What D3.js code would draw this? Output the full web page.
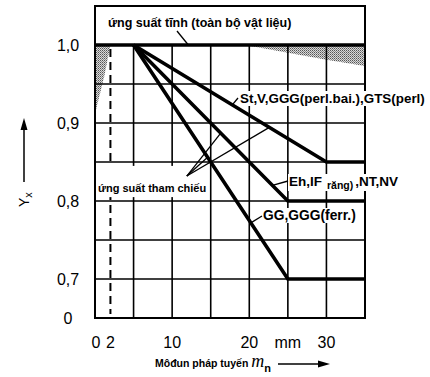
<!DOCTYPE html>
<html>
<head>
<meta charset="utf-8">
<title>Yx - modun</title>
<script src="https://d3js.org/d3.v7.min.js"></script>
<style>
  body { margin: 0; background: #fff; }
  text { font-family: "Liberation Sans", Arial, sans-serif; fill: #000; }
</style>
</head>
<body>
<div id="output"></div>
<script>

  // data
  var xGrid = [5, 10, 15, 20, 25, 30];
  var yGrid = [0.95, 0.9, 0.85, 0.8, 0.75, 0.7];
  var xTickValues = [0, 2, 10, 20, 25, 30];
  var xTickLabels = ["0", "2", "10", "20", "mm", "30"];
  var yTickValues = [1.0, 0.9, 0.8, 0.7, 0.65];
  var yTickLabels = ["1,0", "0,9", "0,8", "0,7", "0"];

  var lineStatic = [[0, 1.0], [35, 1.0]];
  var lineSt = [[5, 1.0], [30, 0.85], [35, 0.85]];
  var lineEh = [[5, 1.0], [25, 0.8], [35, 0.8]];
  var lineGG = [[5, 1.0], [25, 0.7], [35, 0.7]];
  var dashedAt = 2;

  var shadeLeft = [[0, 1.0], [2, 1.0], [1.2, 0.96], [0, 0.912]];
  var shadeRight = [[20, 1.0], [35, 1.0], [35, 0.973], [30, 0.981], [25, 0.99], [20, 0.999]];

  var labelTop = "ứng suất tĩnh (toàn bộ vật liệu)";
  var labelSt = "St,V,GGG(perl.bai.),GTS(perl)";
  var labelGG = "GG,GGG(ferr.)";
  var labelRef = "ứng suất tham chiếu";

  var w = 430, h = 377;
  var x = d3.scaleLinear().domain([0, 35]).range([95, 365]);
  var y = d3.scaleLinear().domain([0.65, 1.0]).range([318, 45]);
  var yTop = 1.05;

  var svg = d3.select("#output").append("svg")
          .attr("width", w)
          .attr("height", h);

  var defs = svg.append("defs");
  var pat = defs.append("pattern")
          .attr("id", "dots")
          .attr("width", 2).attr("height", 2)
          .attr("patternUnits", "userSpaceOnUse");
  pat.append("rect").attr("width", 2).attr("height", 2).attr("fill", "#d8d8d8");
  pat.append("rect").attr("width", 1).attr("height", 1).attr("fill", "#555");
  pat.append("rect").attr("x", 1).attr("y", 1).attr("width", 1).attr("height", 1).attr("fill", "#888");

  var line = d3.line().x(function(d){ return x(d[0]) }).y(function(d){ return y(d[1]) });
  var area = d3.line().x(function(d){ return x(d[0]) }).y(function(d){ return y(d[1]) }).curve(d3.curveLinearClosed);

  function lineAt(pts, xv) {
    for (var i = 0; i < pts.length - 1; i++) {
      if (xv >= pts[i][0] && xv <= pts[i+1][0]) {
        var t = (xv - pts[i][0]) / (pts[i+1][0] - pts[i][0]);
        return [x(xv), y(pts[i][1] + t * (pts[i+1][1] - pts[i][1]))];
      }
    }
  }

  // stippled areas
  svg.append("path").attr("d", area(shadeLeft)).attr("fill", "url(#dots)");
  svg.append("path").attr("d", area(shadeRight)).attr("fill", "url(#dots)");

  // grid
  svg.selectAll(".vgrid")
          .data(xGrid)
          .enter().append("line")
          .attr("class", "vgrid")
          .attr("x1", function(d){ return x(d) }).attr("x2", function(d){ return x(d) })
          .attr("y1", y(1.0)).attr("y2", y(0.65))
          .attr("stroke", "#000").attr("stroke-width", 1.6);

  svg.selectAll(".hgrid")
          .data(yGrid)
          .enter().append("line")
          .attr("class", "hgrid")
          .attr("x1", x(0)).attr("x2", x(35))
          .attr("y1", function(d){ return y(d) }).attr("y2", function(d){ return y(d) })
          .attr("stroke", "#000").attr("stroke-width", 1.6);

  // frame (top band + plot)
  svg.append("path")
          .attr("d", "M" + x(0) + "," + y(0.65) + "V" + y(yTop) + "H" + x(35) + "V" + y(0.65) + "Z")
          .attr("fill", "none").attr("stroke", "#000").attr("stroke-width", 2);

  // dashed m = 2
  svg.append("line")
          .attr("x1", x(dashedAt)).attr("x2", x(dashedAt))
          .attr("y1", y(0.995)).attr("y2", y(0.655))
          .attr("stroke", "#000").attr("stroke-width", 2)
          .attr("stroke-dasharray", "8,5");

  // white boxes behind labels
  var labels = svg.append("g");
  function label(txt, lx, ly, size, weight) {
    return labels.append("text")
            .attr("x", lx).attr("y", ly)
            .attr("font-size", size)
            .attr("font-weight", weight || "bold")
            .text(txt);
  }
  function backing(el, padX, padY) {
    var b = el.node().getBBox();
    labels.insert("rect", "text")
            .attr("x", b.x - padX).attr("y", b.y - padY)
            .attr("width", b.width + 2 * padX).attr("height", b.height + 2 * padY)
            .attr("fill", "#fff");
  }

  var tSt = label(labelSt, 240, 103, 13.4);
  backing(tSt, 1, 0);

  var tEh = labels.append("text").attr("x", 289).attr("y", 186).attr("font-weight", "bold");
  tEh.append("tspan").attr("font-size", 13.5).text("Eh,IF");
  tEh.append("tspan").attr("font-size", 10.5).attr("dx", 5).attr("dy", 3).text("răng)");
  tEh.append("tspan").attr("font-size", 13.5).attr("dx", 2).attr("dy", -3).text(",NT,NV");
  backing(tEh, 1, 0);

  var tGG = label(labelGG, 263, 220, 13.8);
  backing(tGG, 1, 0);

  var tRef = label(labelRef, 98, 192, 11);
  labels.insert("rect", "text")
          .attr("x", x(0) + 1).attr("y", y(0.845))
          .attr("width", 112).attr("height", y(0.805) - y(0.845))
          .attr("fill", "#fff");

  // data lines
  [lineSt, lineEh, lineGG].forEach(function(pts){
    svg.append("path")
            .attr("d", line(pts))
            .attr("fill", "none").attr("stroke", "#000")
            .attr("stroke-width", 3.6).attr("stroke-linejoin", "miter");
  });
  svg.append("path")
          .attr("d", line(lineStatic))
          .attr("fill", "none").attr("stroke", "#000").attr("stroke-width", 3.6);

  // leaders
  function leader(p, q) {
    svg.append("line")
            .attr("x1", p[0]).attr("y1", p[1]).attr("x2", q[0]).attr("y2", q[1])
            .attr("stroke", "#000").attr("stroke-width", 1.3);
  }
  leader(lineAt(lineSt, 17.8), [238, 98]);
  leader(lineAt(lineEh, 23), [288, 181]);
  leader(lineAt(lineGG, 20.2), [262, 216]);
  leader(lineAt(lineStatic, 12.1), [177, 31]);

  var tip = [x(11.9), y(0.832)];
  leader(tip, lineAt(lineSt, 22.6));
  leader(tip, lineAt(lineEh, 16.3));
  leader(tip, lineAt(lineGG, 14.6));

  // top band text
  svg.append("text")
          .attr("x", 108).attr("y", 27)
          .attr("font-size", 12.5).attr("font-weight", "bold")
          .text(labelTop);

  // tick labels
  svg.selectAll(".ytick")
          .data(yTickValues)
          .enter().append("text")
          .attr("class", "ytick")
          .attr("x", 68)
          .attr("y", function(d){ return y(d) + 6 })
          .attr("text-anchor", "middle")
          .attr("font-size", 16)
          .text(function(d, i){ return yTickLabels[i] });

  svg.selectAll(".xtick")
          .data(xTickValues)
          .enter().append("text")
          .attr("class", "xtick")
          .attr("x", function(d){ return x(d) + (d === 0 ? 1 : 0) })
          .attr("y", 348)
          .attr("text-anchor", "middle")
          .attr("font-size", 16)
          .text(function(d, i){ return xTickLabels[i] });

  // x axis title
  var xt = svg.append("text").attr("x", 155).attr("y", 367);
  xt.append("tspan").attr("font-size", 10.5).attr("font-weight", "bold").text("Môđun pháp tuyến ");
  xt.append("tspan").attr("font-size", 18).attr("font-style", "italic").attr("font-family", "Liberation Serif, serif").text("m");
  xt.append("tspan").attr("font-size", 11).attr("font-weight", "bold").attr("dy", 5).text("n");

  svg.append("line")
          .attr("x1", 278).attr("x2", 320).attr("y1", 364).attr("y2", 364)
          .attr("stroke", "#000").attr("stroke-width", 1.5);
  svg.append("path")
          .attr("d", "M318,360.5L330,364L318,367.5Z")
          .attr("fill", "#000");

  // y axis title
  svg.append("text")
          .attr("transform", "translate(29,207) rotate(-90)")
          .attr("font-size", 14)
          .call(function(t){
            t.append("tspan").text("Y");
            t.append("tspan").attr("font-size", 11).attr("dy", 3).text("x");
          });
  svg.append("line")
          .attr("x1", 24).attr("x2", 24).attr("y1", 182).attr("y2", 128)
          .attr("stroke", "#000").attr("stroke-width", 1.5);
  svg.append("path")
          .attr("d", "M20.5,130L24,118L27.5,130Z")
          .attr("fill", "#000");

</script>
</body>
</html>
